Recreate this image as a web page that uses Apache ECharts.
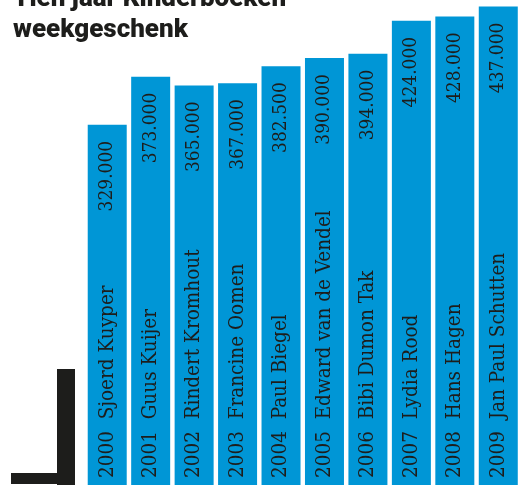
<!DOCTYPE html>
<html>
<head>
<meta charset="utf-8">
<script src="https://cdn.jsdelivr.net/npm/echarts@6/dist/echarts.min.js"></script>
<style>
  html, body { margin: 0; padding: 0; background: #fff; }
  #chart { width: 520px; height: 485px; }
</style>
</head>
<body>
<div id="chart"></div>
<script>
// data
const years = ['2000', '2001', '2002', '2003', '2004', '2005', '2006', '2007', '2008', '2009'];
const authors = ['Sjoerd Kuyper', 'Guus Kuijer', 'Rindert Kromhout', 'Francine Oomen', 'Paul Biegel',
  'Edward van de Vendel', 'Bibi Dumon Tak', 'Lydia Rood', 'Hans Hagen', 'Jan Paul Schutten'];
const copies = [329000, 373000, 365000, 367000, 382500, 390000, 394000, 424000, 428000, 437000];

const blue = '#0096d6';
const ink = '#1d1d1b';
const serif = '"DejaVu Serif Condensed", "DejaVu Serif", serif';

// 329000 -> "329.000"
function fmtNum(v) {
  return String(v).replace(/\B(?=(\d{3})+(?!\d))/g, '.');
}

const chart = echarts.init(document.getElementById('chart'), null, { renderer: 'canvas' });

const option = {
  animation: false,
  title: {
    text: 'Tien jaar Kinderboeken\nweekgeschenk',
    left: 13,
    top: -16,
    padding: 0,
    textStyle: {
      fontFamily: 'Roboto, sans-serif',
      fontWeight: 900,
      fontSize: 26,
      lineHeight: 31,
      color: ink
    }
  },
  grid: {
    left: 85.5,
    right: -5.5,
    top: 0,
    bottom: -3
  },
  xAxis: {
    type: 'category',
    data: years,
    show: false
  },
  yAxis: {
    type: 'value',
    min: 0,
    max: 443000,
    show: false
  },
  series: [
    {
      // bars + value on top
      type: 'bar',
      data: copies,
      barWidth: 39,
      itemStyle: { color: blue },
      label: {
        show: true,
        position: 'insideTop',
        distance: 16,
        rotate: 90,
        align: 'right',
        verticalAlign: 'middle',
        color: ink,
        fontFamily: serif,
        fontSize: 19,
        formatter: function (p) { return fmtNum(p.value); }
      }
    },
    {
      // same bars again, transparent, just for year + name at the bottom
      type: 'bar',
      data: copies,
      barWidth: 39,
      barGap: '-100%',
      silent: true,
      itemStyle: { color: 'rgba(0,0,0,0)' },
      label: {
        show: true,
        position: 'insideBottom',
        distance: 7,
        rotate: 90,
        align: 'left',
        verticalAlign: 'middle',
        color: ink,
        fontFamily: serif,
        fontSize: 20.5,
        formatter: function (p) {
          return years[p.dataIndex] + '  ' + authors[p.dataIndex];
        }
      }
    }
  ],
  graphic: [
    // black corner mark, bottom left
    { type: 'rect', shape: { x: 57, y: 369, width: 18, height: 116 }, style: { fill: ink } },
    { type: 'rect', shape: { x: 11, y: 473, width: 64, height: 11 }, style: { fill: ink } }
  ]
};

chart.setOption(option);

window.addEventListener('resize', () => {
  chart.resize();
});
</script>
</body>
</html>
